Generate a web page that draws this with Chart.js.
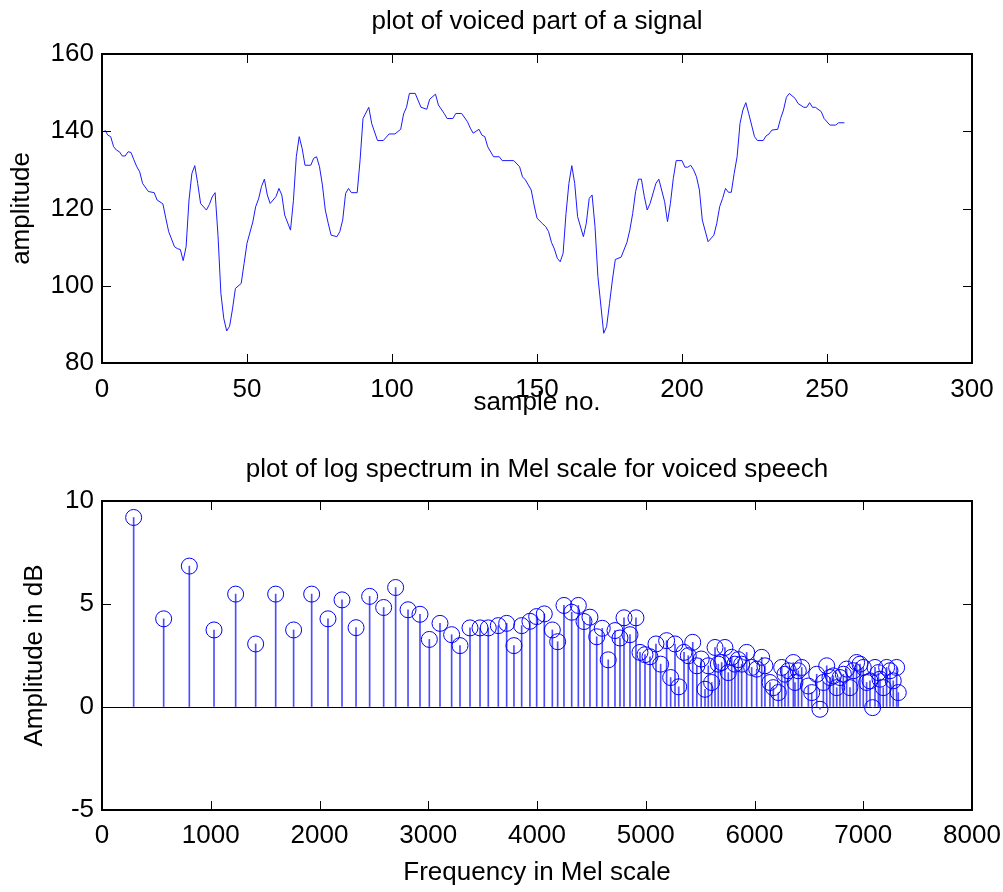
<!DOCTYPE html>
<html>
<head>
<meta charset="utf-8">
<script src="https://cdn.jsdelivr.net/npm/chart.js@4.4.1/dist/chart.umd.min.js"></script>
<style>
  body { margin: 0; background: #fff; }
  #wrap { position: relative; width: 1003px; height: 892px; }
  canvas { position: absolute; left: 0; }
  #top { top: 0; }
  #bottom { top: 440px; }
</style>
</head>
<body>
<div id="wrap">
  <canvas id="top" width="1003" height="430"></canvas>
  <canvas id="bottom" width="1003" height="452"></canvas>
</div>
<script>
// upper plot: voiced part of the signal
const sampleNo = [
  1, 2, 3, 4, 5, 6, 7, 8, 9, 10,
  11, 12, 13, 14, 16, 18, 19, 21, 22, 23,
  25, 26, 27, 28, 29, 30, 31, 32, 33, 34,
  36, 37, 38, 39, 40, 41, 42, 43, 44, 45,
  46, 48, 49, 50, 52, 53, 54, 55, 56, 57,
  58, 60, 61, 62, 63, 65, 66, 67, 68, 69,
  70, 72, 73, 74, 75, 76, 77, 78, 79, 81,
  82, 83, 84, 85, 86, 88, 89, 90, 92, 93,
  95, 97, 99, 101, 103, 104, 105, 106, 108, 110,
  112, 113, 115, 116, 118, 119, 121, 122, 124, 126,
  127, 128, 130, 131, 132, 133, 135, 137, 138, 142,
  144, 145, 146, 148, 149, 150, 152, 153, 154, 155,
  156, 157, 158, 159, 160, 161, 162, 163, 164, 166,
  167, 168, 169, 170, 171, 173, 174, 175, 176, 177,
  179, 181, 182, 183, 184, 185, 186, 187, 188, 189,
  191, 192, 194, 195, 196, 197, 198, 200, 201, 202,
  203, 204, 205, 206, 207, 209, 211, 212, 213, 214,
  215, 216, 217, 218, 219, 220, 221, 222, 223, 225,
  226, 228, 229, 230, 231, 233, 234, 235, 236, 237,
  239, 240, 242, 243, 244, 245, 246, 248, 249, 251,
  253, 254, 256
];
const amplitude = [
  140.3, 139.0, 138.6, 136.0, 135.1, 134.7, 133.6, 133.6, 134.7, 134.5,
  132.6, 130.8, 129.5, 126.5, 124.4, 124.1, 122.2, 121.2, 117.5, 114.0,
  110.1, 109.6, 109.4, 106.5, 110.1, 122.2, 129.1, 131.1, 126.5, 121.3,
  119.6, 121.0, 123.0, 124.1, 113.0, 98.0, 91.5, 88.3, 89.5, 94.0,
  99.3, 100.6, 105.8, 111.0, 116.5, 120.5, 122.5, 125.7, 127.6, 123.5,
  121.3, 123.1, 125.2, 123.5, 118.3, 114.4, 122.0, 133.4, 138.6, 135.6,
  131.2, 131.2, 133.0, 133.4, 130.8, 126.1, 119.6, 116.2, 113.1, 112.7,
  114.0, 117.0, 123.9, 125.2, 124.1, 124.1, 132.6, 143.3, 146.2, 142.0,
  137.6, 137.6, 139.3, 139.3, 140.5, 144.5, 146.2, 149.8, 149.8, 146.2,
  145.7, 148.3, 149.6, 146.8, 144.6, 143.3, 143.3, 144.6, 144.6, 142.5,
  140.8, 139.5, 140.5, 139.0, 138.6, 136.0, 133.4, 133.4, 132.4, 132.4,
  130.8, 128.2, 127.4, 124.8, 120.9, 117.5, 116.0, 115.3, 114.0, 111.2,
  109.5, 107.1, 106.2, 108.4, 118.7, 126.5, 131.1, 126.5, 117.9, 112.7,
  116.2, 122.6, 123.5, 115.3, 102.4, 87.7, 89.4, 95.4, 101.5, 106.8,
  107.4, 111.2, 114.4, 118.7, 124.4, 127.6, 127.6, 123.1, 119.6, 121.3,
  126.5, 127.6, 121.8, 116.6, 121.3, 127.8, 132.4, 132.4, 130.7, 130.7,
  131.2, 130.0, 128.2, 124.8, 117.0, 111.4, 113.1, 116.2, 120.5, 122.6,
  125.2, 124.2, 124.2, 129.1, 133.4, 142.0, 145.5, 147.4, 144.6, 138.6,
  137.6, 137.6, 138.8, 139.3, 140.3, 140.5, 143.3, 145.5, 148.8, 149.8,
  148.5, 147.2, 146.2, 146.2, 147.4, 146.2, 146.2, 145.1, 143.3, 141.6,
  141.6, 142.2, 142.2
];

// lower plot: log spectrum on the Mel scale (stem plot)
const melFreq = [
  291, 567, 803, 1030, 1229, 1413, 1597, 1762, 1928, 2078,
  2207, 2336, 2461, 2590, 2700, 2814, 2924, 3010, 3108, 3215,
  3292, 3384, 3476, 3552, 3644, 3721, 3788, 3859, 3935, 3997,
  4067, 4141, 4190, 4248, 4319, 4380, 4432, 4487, 4549, 4600,
  4655, 4717, 4763, 4800, 4855, 4910, 4947, 4993, 5039, 5094,
  5137, 5192, 5229, 5269, 5303, 5352, 5391, 5432, 5470, 5510,
  5545, 5575, 5606, 5637, 5667, 5698, 5728, 5759, 5790, 5820,
  5851, 5882, 5928, 5974, 6020, 6066, 6096, 6142, 6173, 6219,
  6250, 6280, 6311, 6357, 6372, 6403, 6434, 6495, 6526, 6572,
  6602, 6633, 6664, 6694, 6725, 6756, 6786, 6817, 6847, 6878,
  6909, 6939, 6970, 7000, 7031, 7062, 7086, 7108, 7139, 7154,
  7184, 7215, 7246, 7276, 7307, 7322
];
const logSpecDb = [
  9.2, 4.28, 6.84, 3.74, 5.48, 3.06, 5.48, 3.74, 5.48, 4.28,
  5.2, 3.85, 5.37, 4.83, 5.8, 4.72, 4.5, 3.28, 4.06, 3.51,
  2.98, 3.84, 3.84, 3.84, 3.95, 4.06, 2.98, 3.95, 4.16, 4.39,
  4.52, 3.74, 3.17, 4.93, 4.6, 4.93, 4.15, 4.36, 3.41, 3.82,
  2.29, 3.71, 3.35, 4.33, 3.51, 4.33, 2.65, 2.54, 2.44, 3.06,
  2.08, 3.22, 1.43, 3.06, 0.98, 2.65, 2.49, 3.14, 2.0, 2.33,
  0.86, 2.0, 1.19, 2.89, 2.08, 2.16, 2.89, 1.67, 2.41, 2.08,
  2.3, 2.08, 2.65, 1.92, 1.84, 2.41, 2.0, 1.19, 0.94, 0.7,
  1.92, 1.59, 1.76, 2.16, 1.19, 1.76, 1.92, 1.02, 0.7, 1.59,
  -0.11, 1.19, 2.0, 1.43, 1.51, 0.94, 1.43, 1.59, 1.84, 0.94,
  1.76, 2.16, 2.08, 1.92, 1.19, 1.27, -0.03, 1.92, 1.67, 1.35,
  0.94, 1.92, 1.76, 1.27, 1.92, 0.7
];

const topXTicks = [0, 50, 100, 150, 200, 250, 300];
const topYTicks = [80, 100, 120, 140, 160];
const botXTicks = [0, 1000, 2000, 3000, 4000, 5000, 6000, 7000, 8000];
const botYTicks = [-5, 0, 5, 10];

Chart.defaults.font.family = '"Liberation Sans", Arial, sans-serif';
Chart.defaults.font.size = 26;
Chart.defaults.color = '#000';

function fixedTicks(list) {
  return scale => { scale.ticks = list.map(v => ({ value: v })); };
}

// pin the axis box size and drop the label overflow padding so the plot box lands where it should
function fitX(h) {
  return s => { s.height = h; s.paddingLeft = 0; s.paddingRight = 0; };
}
function fitY(w) {
  return s => { s.width = w; s.paddingTop = 0; s.paddingBottom = 0; };
}

// matlab style axes: box all round, ticks pointing inward on every side
const matlabBox = {
  id: 'matlabBox',
  afterDraw(chart) {
    const { ctx, chartArea: a, scales } = chart;
    const len = 9;
    ctx.save();
    ctx.strokeStyle = '#000';
    ctx.lineWidth = 1;
    ctx.beginPath();
    scales.x.ticks.forEach(t => {
      const px = Math.round(scales.x.getPixelForValue(t.value)) + 0.5;
      ctx.moveTo(px, a.bottom); ctx.lineTo(px, a.bottom - len);
      ctx.moveTo(px, a.top); ctx.lineTo(px, a.top + len);
    });
    scales.y.ticks.forEach(t => {
      const py = Math.round(scales.y.getPixelForValue(t.value)) + 0.5;
      ctx.moveTo(a.left, py); ctx.lineTo(a.left + len, py);
      ctx.moveTo(a.right, py); ctx.lineTo(a.right - len, py);
    });
    ctx.stroke();
    ctx.lineWidth = 2;
    ctx.strokeRect(a.left, a.top, a.right - a.left, a.bottom - a.top);
    ctx.restore();
  }
};

const plain = v => String(v);

// a label-free top axis carries the plot title so it is centred over the plot box
function titleAxis(text, min, max, h, padTop) {
  return {
    type: 'linear', position: 'top', min: min, max: max,
    afterFit: fitX(h),
    grid: { display: false, drawTicks: false },
    border: { display: false },
    ticks: { display: false },
    title: { display: true, text: text, padding: { top: padTop, bottom: 0 } }
  };
}

new Chart(document.getElementById('top'), {
  type: 'line',
  data: {
    datasets: [{
      data: sampleNo.map((x, i) => ({ x: x, y: amplitude[i] })),
      borderColor: '#1a1aff',
      borderWidth: 1,
      pointRadius: 0,
      tension: 0,
      fill: false
    }]
  },
  options: {
    responsive: false,
    animation: false,
    devicePixelRatio: 1,
    layout: { padding: { left: 0, right: 31, top: 0, bottom: 5 } },
    plugins: { legend: { display: false }, tooltip: { enabled: false } },
    scales: {
      xTop: titleAxis('plot of voiced part of a signal', 0, 300, 54, 6.4),
      x: {
        type: 'linear', position: 'bottom', min: 0, max: 300, offset: false,
        afterBuildTicks: fixedTicks(topXTicks),
        afterFit: fitX(62),
        grid: { display: false, drawTicks: false },
        border: { display: false },
        ticks: { padding: 11, maxRotation: 0, autoSkip: false, callback: plain },
        title: { display: true, text: 'sample no.', padding: { top: 0, bottom: 6.4 } }
      },
      y: {
        type: 'linear', min: 80, max: 160,
        afterBuildTicks: fixedTicks(topYTicks),
        afterFit: fitY(102),
        grid: { display: false, drawTicks: false },
        border: { display: false },
        ticks: { padding: 8, callback: plain },
        title: { display: true, text: 'amplitude', padding: { top: 6.4, bottom: 0 } }
      }
    }
  },
  plugins: [matlabBox]
});

new Chart(document.getElementById('bottom'), {
  type: 'scatter',
  data: {
    datasets: [
      {
        type: 'scatter',
        data: melFreq.map((x, i) => ({ x: x, y: logSpecDb[i] })),
        showLine: false,
        pointStyle: 'circle',
        pointRadius: 8,
        pointHoverRadius: 8,
        pointBorderWidth: 1,
        pointBorderColor: '#0000ff',
        pointBackgroundColor: 'rgba(0,0,0,0)'
      },
      {
        type: 'bar',
        data: melFreq.map((x, i) => ({ x: x, y: logSpecDb[i] })),
        backgroundColor: '#4d4dff',
        borderWidth: 0,
        barThickness: 1
      }
    ]
  },
  options: {
    responsive: false,
    animation: false,
    devicePixelRatio: 1,
    layout: { padding: { left: 0, right: 31, top: 0, bottom: 2 } },
    plugins: { legend: { display: false }, tooltip: { enabled: false } },
    scales: {
      xTop: titleAxis('plot of log spectrum in Mel scale for voiced speech', 0, 8000, 61, 14.4),
      x: {
        type: 'linear', position: 'bottom', min: 0, max: 8000, offset: false,
        afterBuildTicks: fixedTicks(botXTicks),
        afterFit: fitX(80),
        grid: { display: false, drawTicks: false },
        border: { display: false },
        ticks: { padding: 10, maxRotation: 0, autoSkip: false, callback: plain },
        title: { display: true, text: 'Frequency in Mel scale', padding: { top: 0, bottom: 1.4 } }
      },
      y: {
        type: 'linear', min: -5, max: 10,
        afterBuildTicks: fixedTicks(botYTicks),
        afterFit: fitY(102),
        grid: {
          display: true, drawOnChartArea: true, drawTicks: false,
          color: c => (c.tick && c.tick.value === 0 ? '#000' : 'rgba(0,0,0,0)'),
          lineWidth: 1
        },
        border: { display: false },
        ticks: { padding: 8, callback: plain },
        title: { display: true, text: 'Amplitude in dB', padding: { top: 19.4, bottom: 0 } }
      }
    }
  },
  plugins: [matlabBox]
});
</script>
</body>
</html>
